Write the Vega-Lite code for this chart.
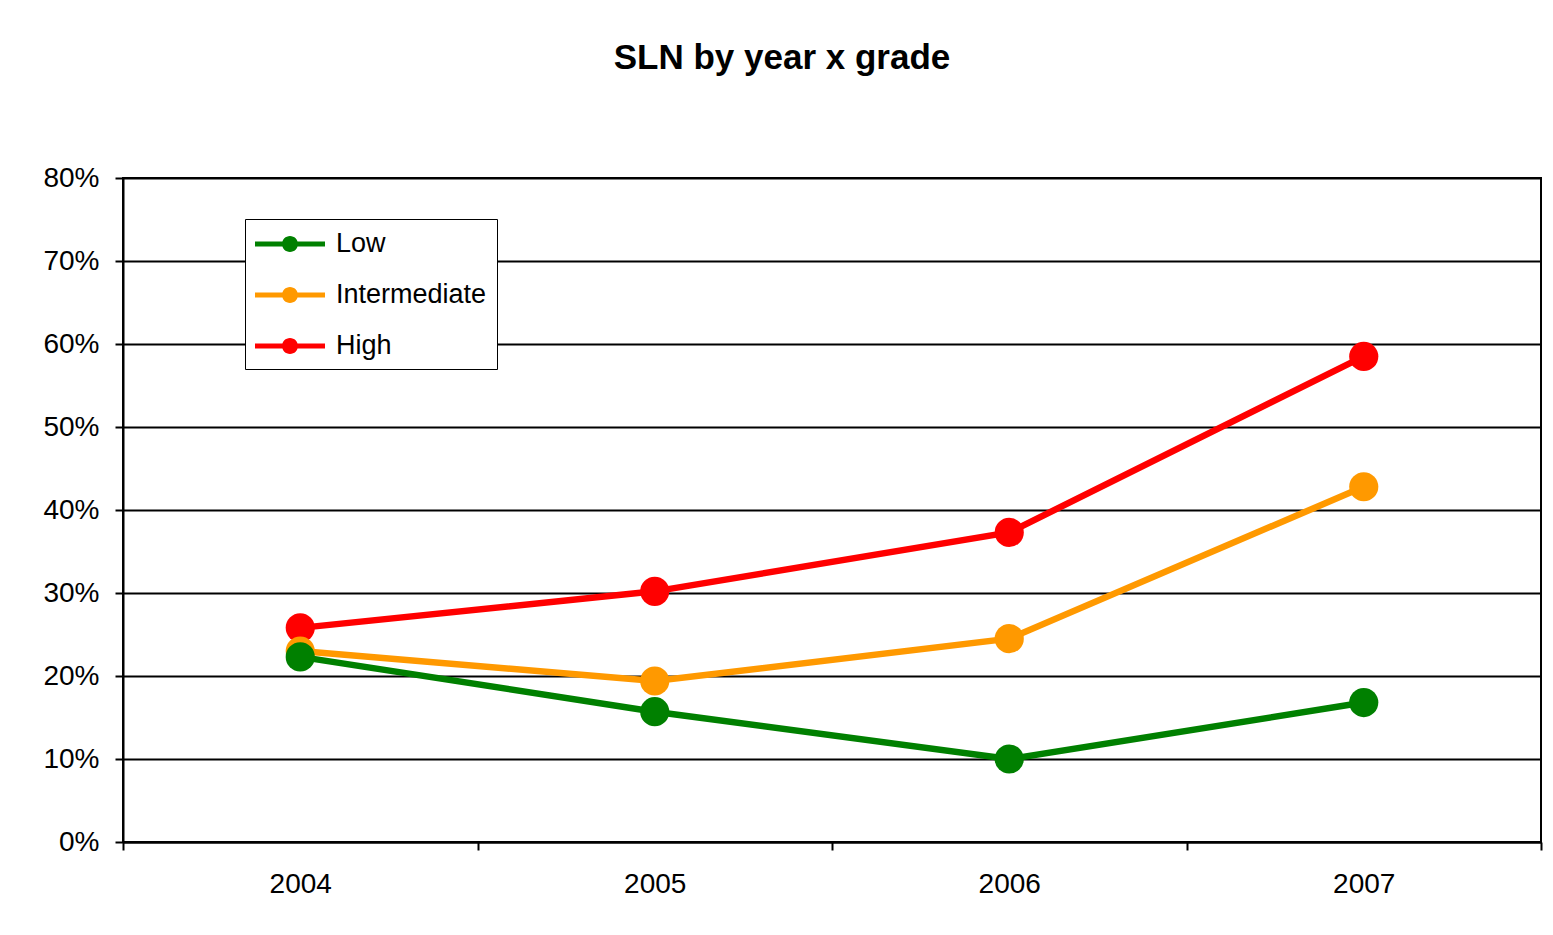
{
  "$schema": "https://vega.github.io/schema/vega-lite/v6.json",
  "autosize": "none",
  "width": 1418,
  "height": 664,
  "padding": {"left": 123, "top": 178, "right": 12, "bottom": 93},
  "background": "white",
  "title": {
    "text": "SLN by year x grade",
    "font": "Liberation Sans",
    "fontSize": 35,
    "fontWeight": "bold",
    "color": "black",
    "anchor": "middle",
    "dx": -50,
    "offset": 88
  },
  "data": {
    "values": [
      {"year": "2004", "grade": "Low", "value": 0.223},
      {"year": "2005", "grade": "Low", "value": 0.157},
      {"year": "2006", "grade": "Low", "value": 0.100},
      {"year": "2007", "grade": "Low", "value": 0.168},
      {"year": "2004", "grade": "Intermediate", "value": 0.230},
      {"year": "2005", "grade": "Intermediate", "value": 0.194},
      {"year": "2006", "grade": "Intermediate", "value": 0.245},
      {"year": "2007", "grade": "Intermediate", "value": 0.428},
      {"year": "2004", "grade": "High", "value": 0.258},
      {"year": "2005", "grade": "High", "value": 0.302},
      {"year": "2006", "grade": "High", "value": 0.373},
      {"year": "2007", "grade": "High", "value": 0.585}
    ]
  },
  "mark": {
    "type": "line",
    "strokeWidth": 6.5,
    "point": {"filled": true, "size": 850, "opacity": 1}
  },
  "encoding": {
    "x": {
      "field": "year",
      "type": "ordinal",
      "title": null,
      "scale": {"type": "band", "paddingInner": 0, "paddingOuter": 0},
      "axis": {
        "tickBand": "extent",
        "labelAngle": 0,
        "labelFont": "Liberation Sans",
        "labelFontSize": 28,
        "labelColor": "black",
        "labelPadding": 20,
        "tickSize": 8,
        "tickWidth": 2,
        "tickColor": "black",
        "domainColor": "black",
        "domainWidth": 2,
        "grid": false
      }
    },
    "y": {
      "field": "value",
      "type": "quantitative",
      "title": null,
      "scale": {"domain": [0, 0.8], "nice": false},
      "axis": {
        "values": [0, 0.1, 0.2, 0.3, 0.4, 0.5, 0.6, 0.7, 0.8],
        "format": ".0%",
        "labelFont": "Liberation Sans",
        "labelFontSize": 28,
        "labelColor": "black",
        "labelPadding": 16,
        "tickSize": 8,
        "tickWidth": 2,
        "tickColor": "black",
        "domainColor": "black",
        "domainWidth": 2,
        "grid": true,
        "gridColor": "black",
        "gridWidth": 2,
        "gridOpacity": 1
      }
    },
    "color": {
      "field": "grade",
      "type": "nominal",
      "sort": ["Low", "Intermediate", "High"],
      "scale": {
        "domain": ["Low", "Intermediate", "High"],
        "range": ["#008000", "#FF9900", "#FF0000"]
      },
      "legend": {
        "title": null,
        "orient": "none",
        "legendX": 122,
        "legendY": 41,
        "strokeColor": "black",
        "fillColor": "white",
        "padding": 10,
        "symbolType": "M-1,-0.17 L3.667,-0.17 L3.667,0.17 L-1,0.17 Z M0.8,0 A0.533,0.533 0 1,1 1.866,0 A0.533,0.533 0 1,1 0.8,0 Z",
        "symbolSize": 900,
        "symbolStrokeWidth": 0,
        "symbolOpacity": 1,
        "labelFont": "Liberation Sans",
        "labelFontSize": 27,
        "labelColor": "black",
        "labelOffset": 51,
        "rowPadding": 23
      }
    },
    "order": {"field": "grade"}
  },
  "config": {
    "view": {"stroke": "black", "strokeWidth": 2},
    "legend": {"symbolFillColor": null}
  }
}
